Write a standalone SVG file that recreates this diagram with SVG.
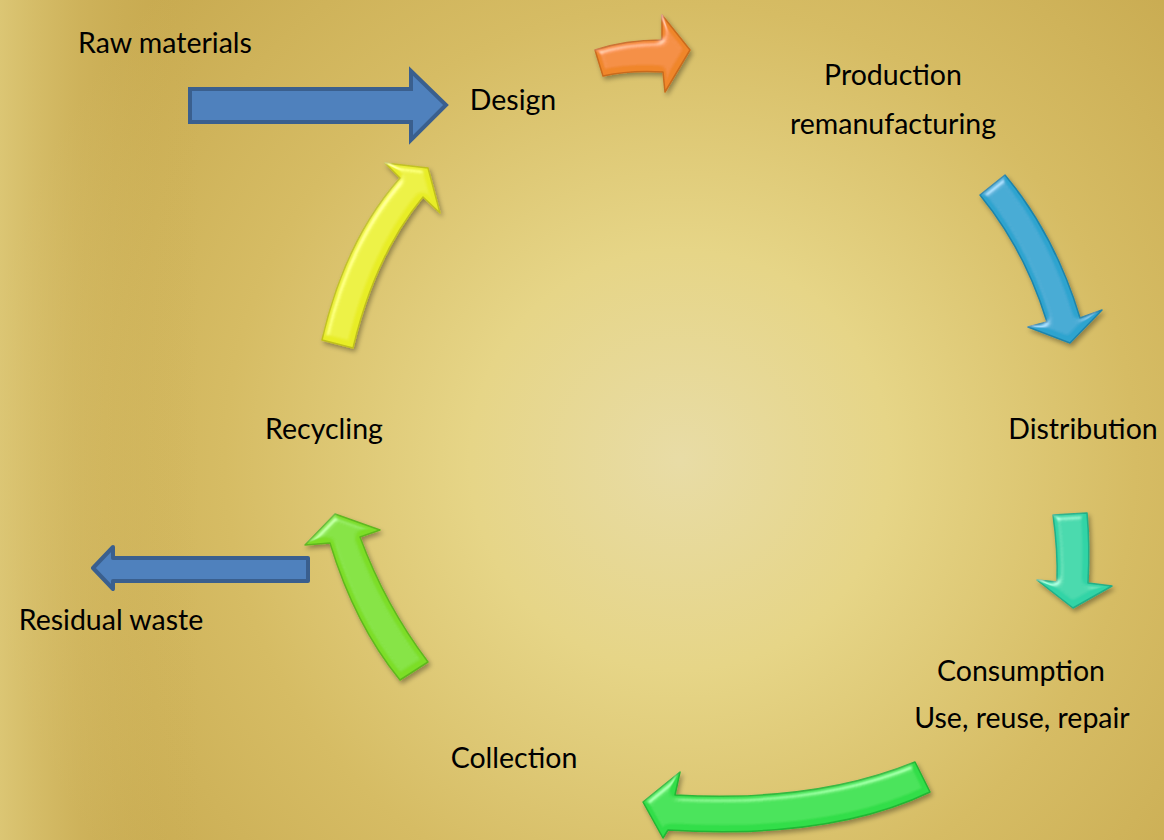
<svg xmlns="http://www.w3.org/2000/svg" width="1164" height="840" viewBox="0 0 1164 840">
<defs>
<radialGradient id="bg" cx="680" cy="460" r="700" gradientUnits="userSpaceOnUse">
<stop offset="0" stop-color="#e8dca6"/>
<stop offset="0.3" stop-color="#e6d587"/>
<stop offset="0.65" stop-color="#d6bc64"/>
<stop offset="1" stop-color="#c8aa50"/>
</radialGradient>
<linearGradient id="leftEdge" x1="0" y1="0" x2="200" y2="0" gradientUnits="userSpaceOnUse">
<stop offset="0" stop-color="#e2cf80" stop-opacity="0.75"/>
<stop offset="0.4" stop-color="#dcc674" stop-opacity="0.3"/>
<stop offset="1" stop-color="#c6a84c" stop-opacity="0"/>
</linearGradient>
<filter id="bevel" x="-20%" y="-20%" width="140%" height="140%">
<feGaussianBlur in="SourceAlpha" stdDeviation="3" result="blur"/>
<feSpecularLighting in="blur" surfaceScale="5" specularConstant="0.9" specularExponent="22" lighting-color="#ffffff" result="spec">
<feDistantLight azimuth="235" elevation="40"/>
</feSpecularLighting>
<feComposite in="spec" in2="SourceAlpha" operator="in" result="specIn"/>
<feComposite in="SourceGraphic" in2="specIn" operator="arithmetic" k1="0" k2="1" k3="0.4" k4="0" result="lit"/>
<feGaussianBlur in="SourceAlpha" stdDeviation="2.5" result="sh"/>
<feOffset in="sh" dx="2" dy="3" result="sho"/>
<feComponentTransfer in="sho" result="shf"><feFuncA type="linear" slope="0.35"/></feComponentTransfer>
<feMerge><feMergeNode in="shf"/><feMergeNode in="lit"/></feMerge>
</filter>
<style>
.t{font-family:Lato,"Open Sans","Liberation Sans",sans-serif;font-size:28.5px;fill:#000;text-anchor:middle}
.flat{fill:#4f81bd;stroke:#3a5f8e;stroke-width:4}
.c3d{filter:url(#bevel);stroke-width:1.5;stroke-linejoin:round}
</style>
</defs>
<rect width="1164" height="840" fill="url(#bg)"/>
<rect width="200" height="840" fill="url(#leftEdge)"/>

<g id="connectors">
<path id="raw-in" class="flat" stroke-linejoin="miter" d="M190,89 L411,89 L411,71 L446,105 L411,140 L411,122 L190,122 Z"/>
<path id="residual-out" class="flat" stroke-linejoin="round" d="M308,558 L113,558 L113,547 L93,568 L113,589 L113,581 L308,581 Z"/>
<path id="design-production" class="c3d" fill="#f0862a" stroke="#c96a1c" d="M595,50 Q625,40 662,40 L662,15 L690,50 L665,92 L663,72 Q630,70 603,76 Z"/>
<path id="production-distribution" class="c3d" fill="#2ea4cf" stroke="#1f84ab" d="M980,195 Q1025,250 1047,322 L1028,327 L1070,343 L1102,310 L1080,318 Q1055,235 1005,175 Z"/>
<path id="distribution-consumption" class="c3d" fill="#30d4a6" stroke="#20ae88" d="M1053,515 Q1058,550 1057,582 L1037,580 L1073,608 L1112,586 L1088,583 Q1090,545 1087,513 Z"/>
<path id="consumption-collection" class="c3d" fill="#30de48" stroke="#22b534" d="M915,762 Q815,803 675,795 L680,772 L643,802 L663,838 L668,830 Q830,840 930,792 Z"/>
<path id="collection-recycling" class="c3d" fill="#7cde28" stroke="#5fb71e" d="M400,680 Q355,625 330,543 L305,545 L335,514 L380,530 L360,537 Q385,605 428,662 Z"/>
<path id="recycling-design" class="c3d" fill="#e8ed28" stroke="#c0c01c" d="M322,340 Q345,240 400,178 L385,163 L428,168 L440,213 L423,197 Q375,255 353,348 Z"/>
</g>

<g id="raw-materials"><text class="t" x="165" y="53">Raw materials</text></g>
<g id="design"><text class="t" x="513" y="110">Design</text></g>
<g id="production"><text class="t" x="893" y="85">Production</text><text class="t" x="893" y="134">remanufacturing</text></g>
<g id="distribution"><text class="t" x="1083" y="439">Distribution</text></g>
<g id="consumption"><text class="t" x="1021" y="681">Consumption</text><text class="t" x="1022" y="728">Use, reuse, repair</text></g>
<g id="collection"><text class="t" x="514" y="768">Collection</text></g>
<g id="recycling"><text class="t" x="324" y="439">Recycling</text></g>
<g id="residual-waste"><text class="t" x="111" y="630">Residual waste</text></g>
</svg>
